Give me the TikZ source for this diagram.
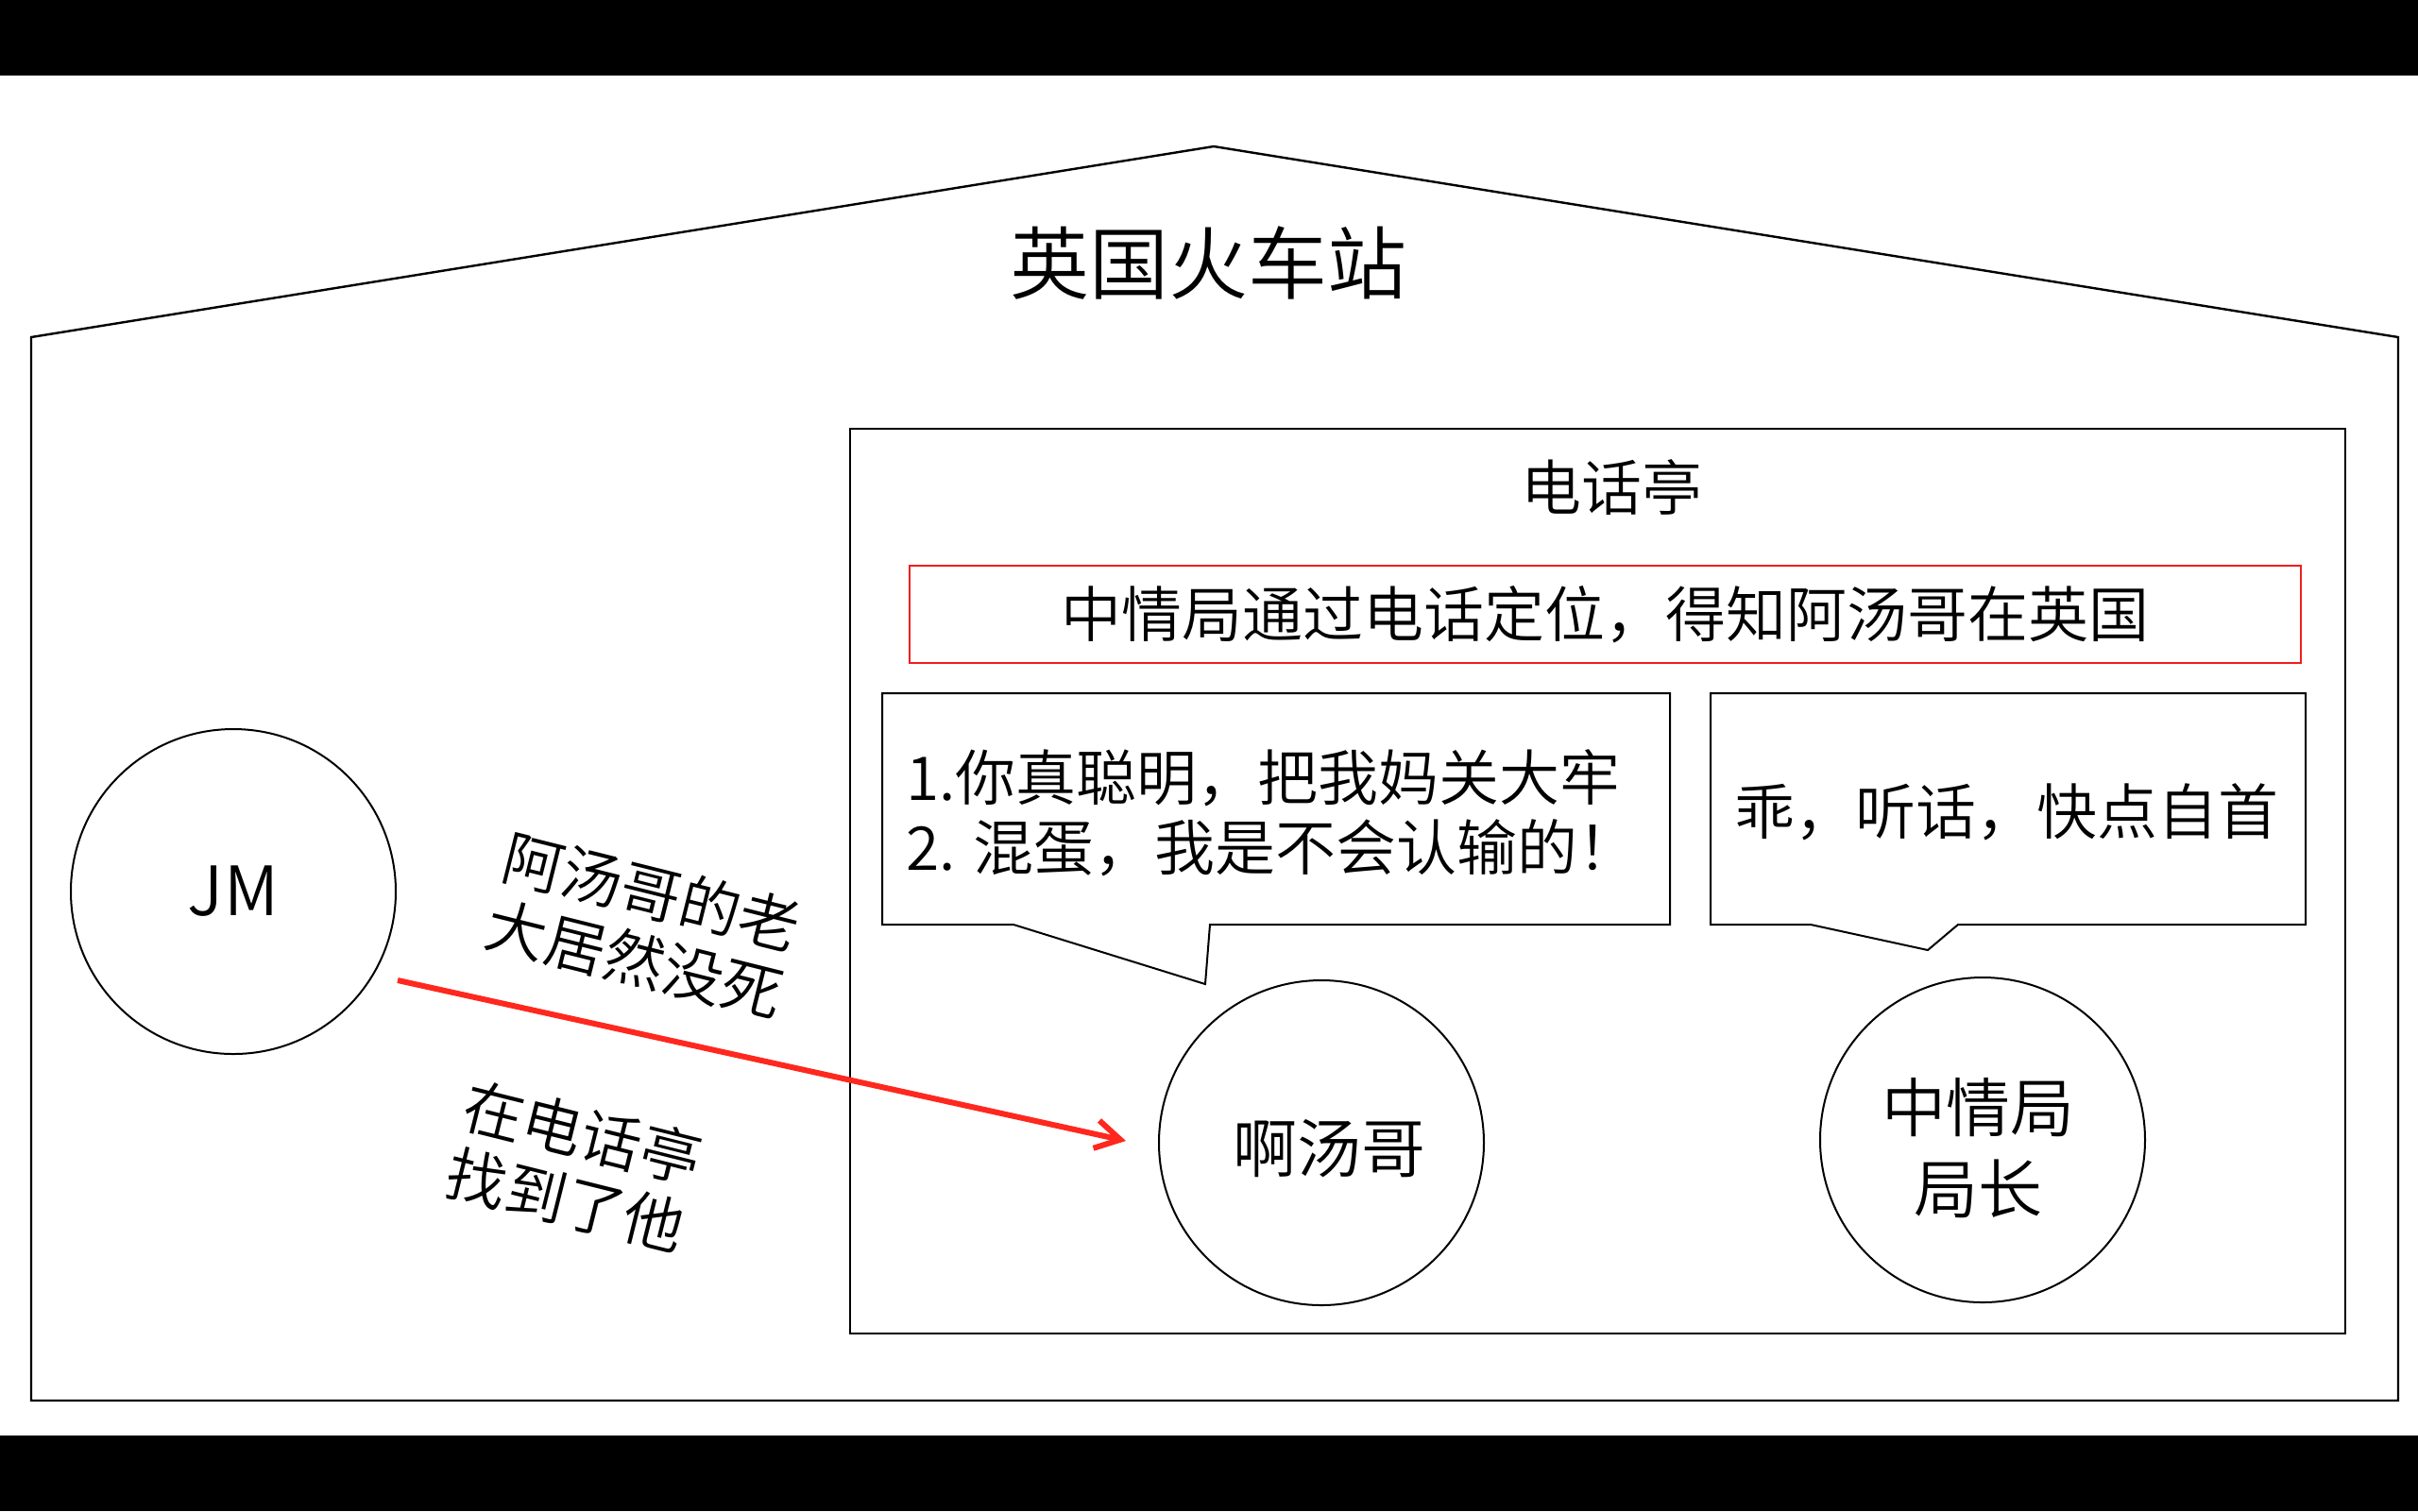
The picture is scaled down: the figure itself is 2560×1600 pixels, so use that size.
\documentclass[tikz,border=0pt]{standalone}
\usepackage{fontspec}
\setmainfont{Noto Sans CJK SC}[UprightFont=* DemiLight]
\usetikzlibrary{arrows.meta}
\definecolor{arrred}{RGB}{255,40,30}
\definecolor{boxred}{RGB}{240,30,30}
\begin{document}
\begin{tikzpicture}[x=0.25pt,y=-0.25pt,
  wall/.style={draw=black,line width=0.6pt},
  thin/.style={draw=black,line width=0.5pt},
  txt/.style={font=\fontsize{16}{18.4}\selectfont,inner sep=0pt},
  person/.style={circle,thin,minimum size=86pt,inner sep=0pt},
  ptxt/.style={inner sep=0pt,font=\fontsize{17}{21.5}\selectfont,align=center},
  tilted/.style={txt,rotate=-14,align=left}]
\useasboundingbox (0,0) rectangle (2560,1600);
\fill[black] (0,0) rectangle (2560,1600);
\fill[white] (0,80) rectangle (2560,1520);
% station outline
\draw[wall] (33,357) -- (1285,155) -- (2539,357) -- (2539,1483) -- (33,1483) -- cycle;
\node[inner sep=0pt,font=\fontsize{21}{24}\selectfont] (title) at (1279,278) {英国火车站};
% phone booth
\draw[thin] (900,454) rectangle (2483,1412);
\node[txt] (booth) at (1706,516) {电话亭};
\node[draw=boxred,line width=0.5pt,minimum width=368.25pt,minimum height=25.75pt,inner sep=0pt,font=\fontsize{16}{18.4}\selectfont] (redbox) at (1699.5,650.5) {中情局通过电话定位，得知阿汤哥在英国};
% speech bubbles
\draw[thin,fill=white] (934,734) -- (1768,734) -- (1768,979) -- (1281,979) -- (1276,1042) -- (1073,979) -- (934,979) -- cycle;
\node[txt,align=left] (say1) at (1347,861) {1.你真聪明，把我妈关大牢\\2. 混蛋，我是不会认输的！};
\draw[thin,fill=white] (1811,734) -- (2441,734) -- (2441,979) -- (2073,979) -- (2041,1006) -- (1917,979) -- (1811,979) -- cycle;
\node[txt] (say2) at (2124,860) {乖，听话，快点自首};
% people
\node[person] (jm) at (247,944) {};
\node[ptxt,font=\fontsize{18}{21}\selectfont] (jmT) at (247,944) {JM};
\node[person] (atg) at (1399,1210) {};
\node[ptxt] (atgT) at (1407,1216) {啊汤哥};
\node[person] (cia) at (2099,1207) {};
\node[ptxt] (ciaT) at (2094,1216) {中情局\\局长};
% arrow
\coordinate (arrS) at (421,1038);
\coordinate (arrE) at (1192,1208);
\draw[arrred,line width=1.5pt,-{Straight Barb[length=6.5pt,width=7.5pt]}] (arrS) -- (arrE);
\node[tilted] (lbl1) at (681,980) {阿汤哥的老\\大居然没死};
\node[tilted] (lbl2) at (608,1235) {在电话亭\\找到了他};
\end{tikzpicture}
\end{document}
